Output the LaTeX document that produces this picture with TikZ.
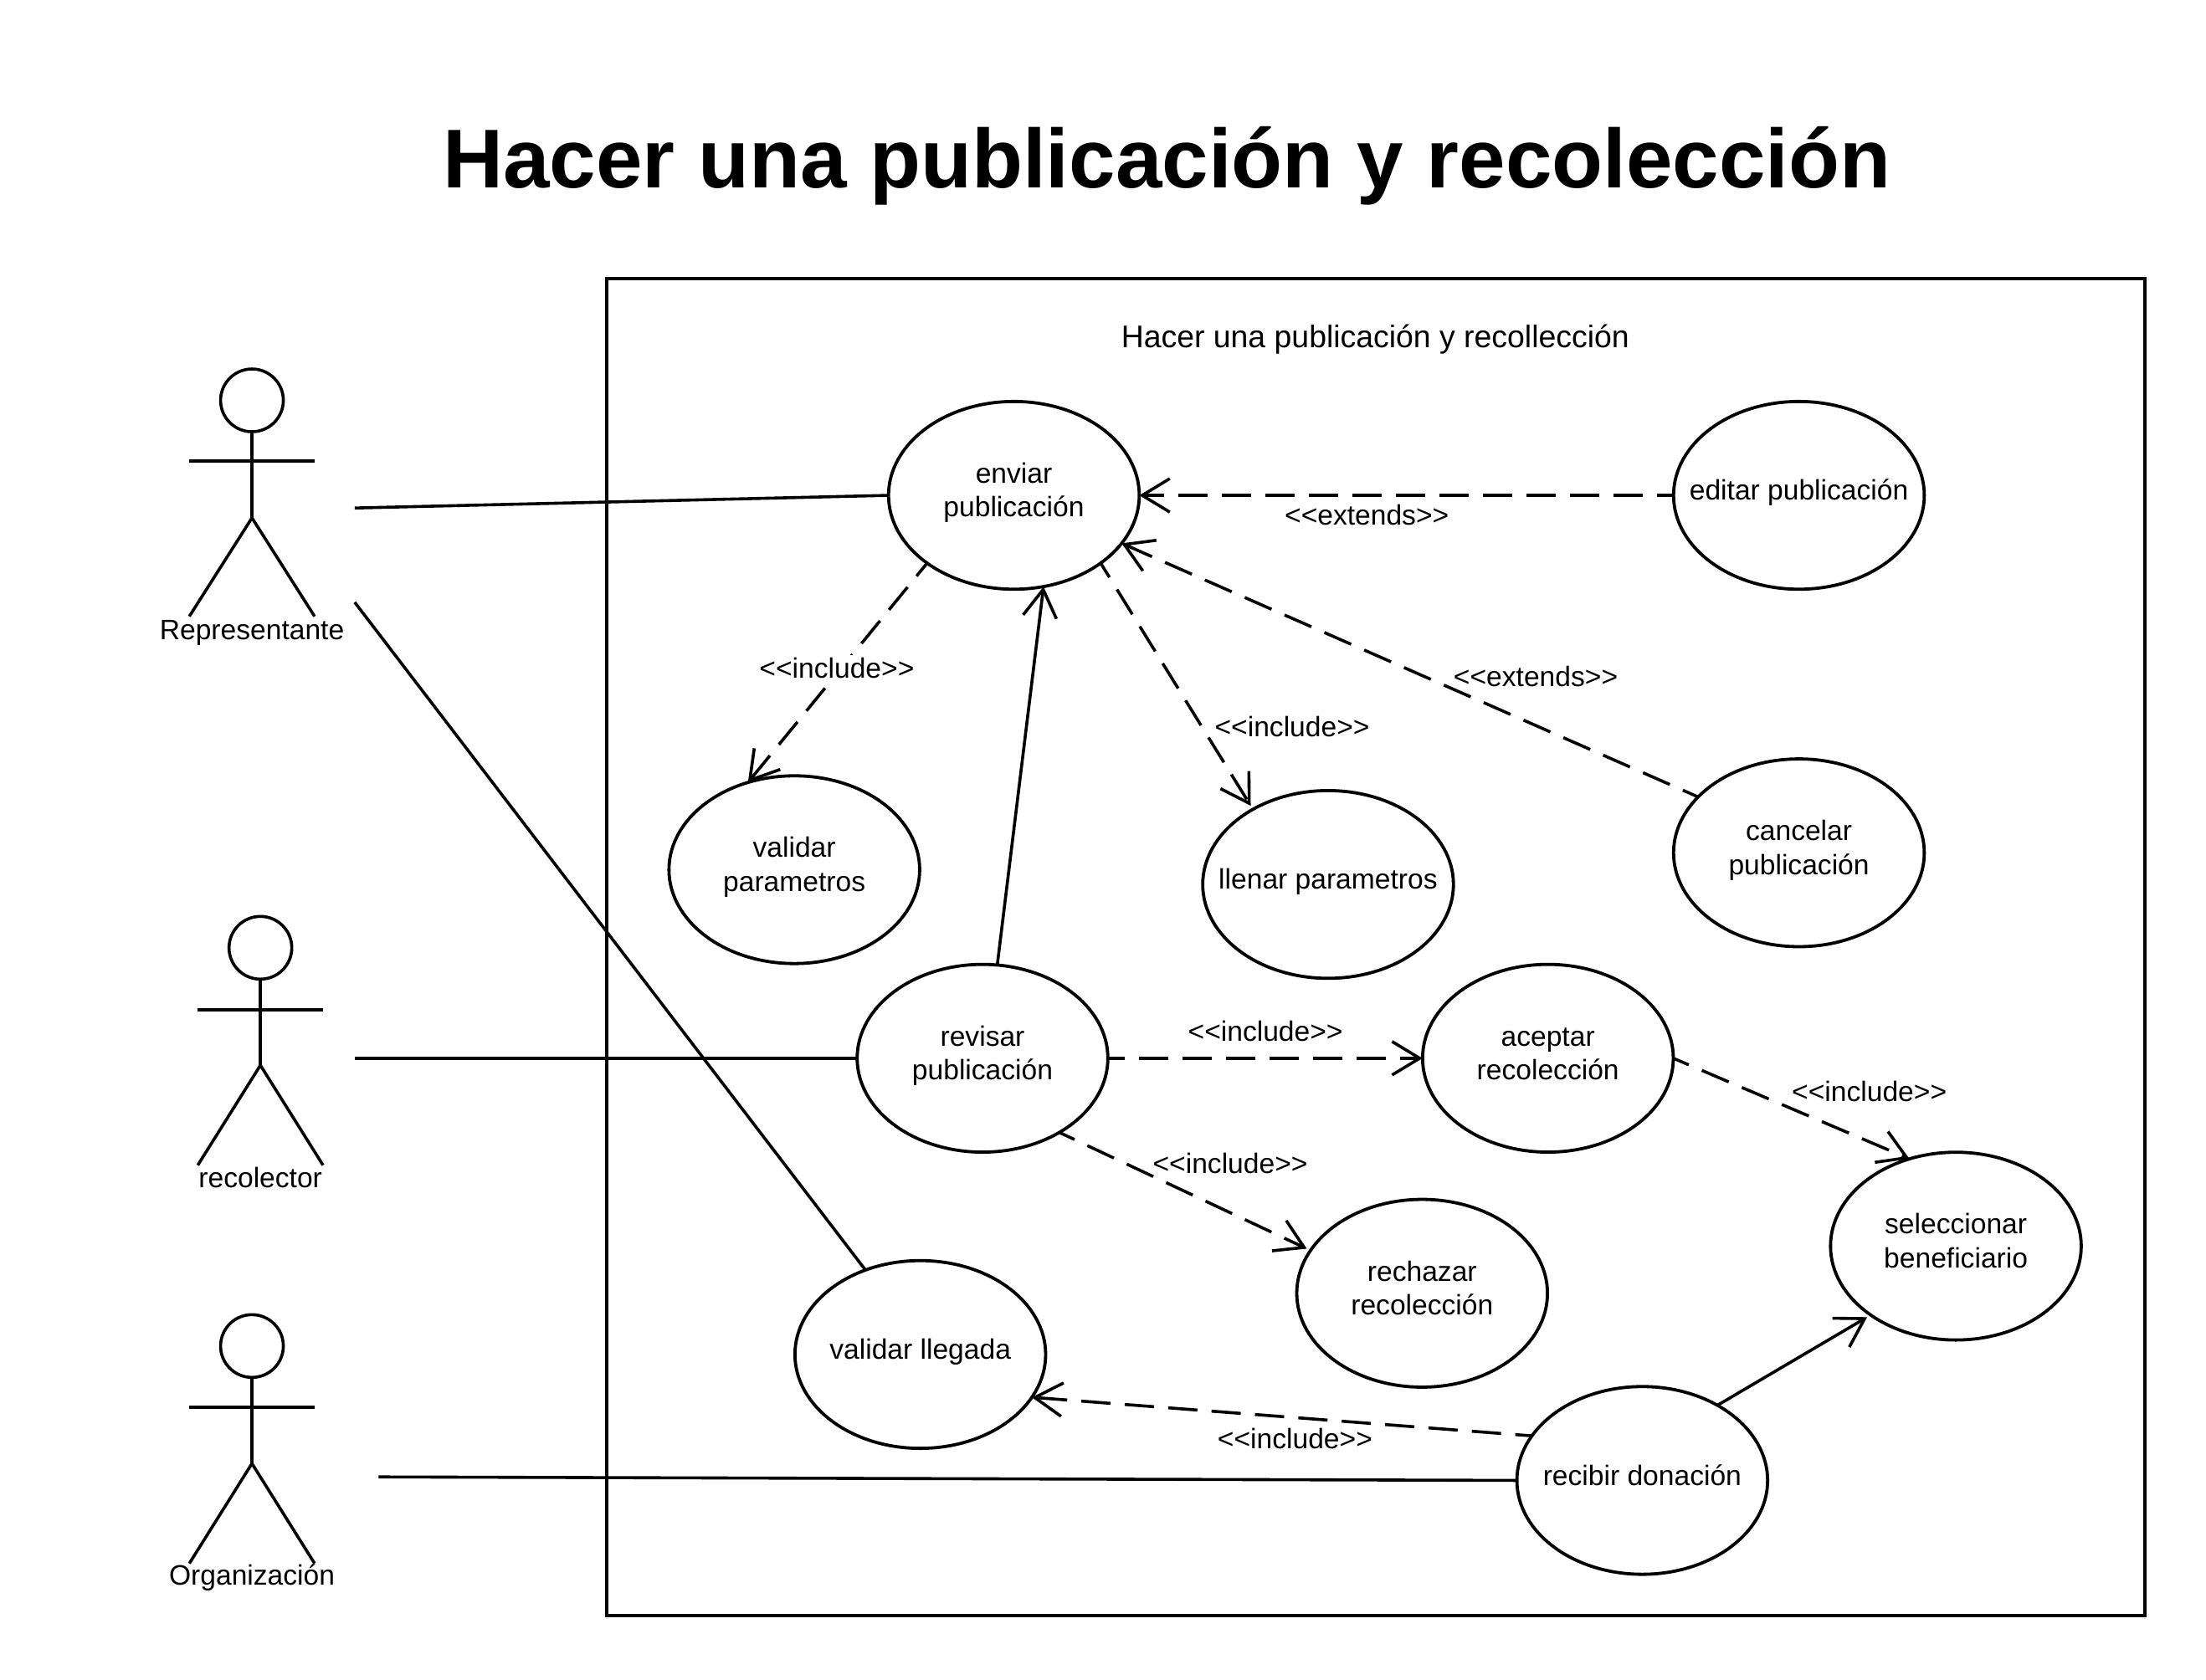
\documentclass[tikz,border=0pt]{standalone}
\usepackage{fontspec}
\setmainfont{Liberation Sans}
\usetikzlibrary{arrows.meta,shapes.geometric}
\newcommand{\eqh}{\vphantom{lp}}
\tikzset{
  x=0.841pt,y=-0.841pt,
  uc/.style={draw=black,line width=1.9pt,fill=white,ellipse,inner sep=0pt,outer sep=0pt,minimum width=149.8pt,minimum height=112.2pt},
  uctext/.style={font=\fontsize{16.8pt}{20.2pt}\selectfont,align=center,yshift=1.5pt},
  txt/.style={font=\fontsize{16.8pt}{20.2pt}\selectfont,align=center,inner sep=0pt},
  conn/.style={line width=1.8pt,draw=black},
  dep/.style={conn,dash pattern=on 17.5pt off 8.5pt,dash phase=7.5pt,-{Straight Barb[length=16.5pt,width=20pt,line width=1.8pt]}},
  assoc/.style={conn,-{Straight Barb[length=16.5pt,width=20pt,line width=1.8pt]}},
  actorpart/.style={line width=1.8pt,draw=black,line cap=butt},
  head/.style={circle,draw=black,line width=1.8pt,inner sep=0pt,minimum size=37.5pt}
}
\newcommand{\umlactor}[6]{% name, x, head y, arms y, crotch y, feet y
  \node[head] (#1h) at (#2,#3) {};
  \coordinate (#1n) at (#2,#4);
  \coordinate (#1c) at (#2,#5);
  \coordinate (#1la) at ({#2-44.5},#4);
  \coordinate (#1ra) at ({#2+44.5},#4);
  \coordinate (#1lf) at ({#2-44.5},#6);
  \coordinate (#1rf) at ({#2+44.5},#6);
  \draw[actorpart] (#1h.south) -- (#1c);
  \draw[actorpart] (#1la) -- (#1ra);
  \draw[actorpart,line join=miter] (#1lf) -- (#1c) -- (#1rf);
}
\begin{document}
\begin{tikzpicture}
\useasboundingbox (0,0) rectangle (1567.2,1193.8);
\node[font=\bfseries\fontsize{49.9pt}{58pt}\selectfont,inner sep=0pt] (title) at (829,118) {Hacer una publicación y recolección};
\node[draw=black,line width=1.9pt,minimum width=918.9pt,minimum height=799pt,inner sep=0pt,outer sep=0pt] (frame) at (977.3,673.2) {};
\node[txt,font=\fontsize{18.7pt}{22pt}\selectfont] (caption) at (977,241) {Hacer una publicación y recollección};

\umlactor{rep}{179}{284.5}{327.5}{368}{438}
\node[txt] (repl) at (179,450) {Representante};
\umlactor{rec}{185}{673.5}{717.5}{757}{828}
\node[txt] (recl) at (185,837) {recolector};
\umlactor{org}{179}{956.5}{1000}{1040}{1111}
\node[txt] (orgl) at (179,1121) {Organización};

\node[uc,label={[uctext]center:\eqh enviar\\\eqh publicación}] (enviar) at (720.3,352) {};
\node[uc,label={[uctext]center:\eqh editar publicación}] (editar) at (1278,352) {};
\node[uc,label={[uctext]center:\eqh validar\\\eqh parametros}] (valpar) at (564.3,618) {};
\node[uc,label={[uctext]center:\eqh llenar parametros}] (llenar) at (943.5,628.5) {};
\node[uc,label={[uctext]center:\eqh cancelar\\\eqh publicación}] (cancelar) at (1278,606) {};
\node[uc,label={[uctext]center:\eqh revisar\\\eqh publicación}] (revisar) at (698,752) {};
\node[uc,label={[uctext]center:\eqh aceptar\\\eqh recolección}] (aceptar) at (1099.7,752) {};
\node[uc,label={[uctext]center:\eqh rechazar\\\eqh recolección}] (rechazar) at (1010.3,919) {};
\node[uc,label={[uctext]center:\eqh seleccionar\\\eqh beneficiario}] (selec) at (1389.5,885.5) {};
\node[uc,label={[uctext]center:\eqh validar llegada}] (valleg) at (653.8,962.5) {};
\node[uc,label={[uctext]center:\eqh recibir donación}] (recibir) at (1166.7,1052) {};

\coordinate (repa) at (252,361);
\coordinate (repb) at (252,428);
\coordinate (reca) at (252,752);
\coordinate (orga) at (269,1049.5);
\draw[conn] (repa) -- (enviar.west);
\draw[conn] (repb) -- (valleg.123);
\draw[conn] (reca) -- (revisar.west);
\draw[conn] (orga) -- (recibir.west);

\draw[assoc] (revisar.81.5) -- (enviar.-72.5);
\draw[assoc,shorten >=2.5pt] (recibir.45.8) -- (selec.-141);
\draw[dep] (enviar.-142.3) -- (valpar.118.5);
\draw[dep,shorten >=2.5pt] (enviar.-38.1) -- (llenar.135.8);
\draw[dep] (editar.west) -- (enviar.east);
\draw[dep] (cancelar.151.3) -- (enviar.-24.6);
\draw[dep] (revisar.east) -- (aceptar.west);
\draw[dep,shorten >=2.5pt] (revisar.-44.7) -- (rechazar.159.8);
\draw[dep] (aceptar.east) -- (selec.118.4);
\draw[dep] (recibir.158.9) -- (valleg.-21.6);

\node[txt] (l1) at (971,366) {<{}<extends>{}>};
\node[txt,fill=white,inner sep=2pt] (l2) at (594.5,475) {<{}<include>{}>};
\node[txt] (l3) at (918,516.5) {<{}<include>{}>};
\node[txt] (l4) at (1091,480.5) {<{}<extends>{}>};
\node[txt] (l5) at (899,733) {<{}<include>{}>};
\node[txt] (l6) at (874,826.5) {<{}<include>{}>};
\node[txt] (l7) at (1328,775.5) {<{}<include>{}>};
\node[txt] (l8) at (920,1022.5) {<{}<include>{}>};
\end{tikzpicture}
\end{document}
